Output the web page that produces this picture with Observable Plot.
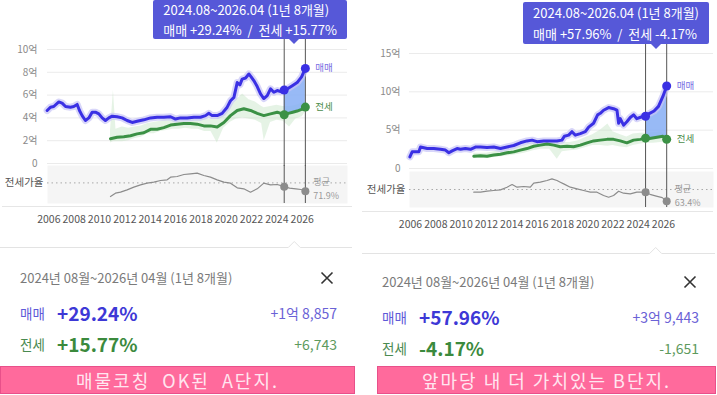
<!DOCTYPE html>
<html><head><meta charset="utf-8">
<script src="https://cdn.jsdelivr.net/npm/d3@7"></script>
<script src="https://cdn.jsdelivr.net/npm/@observablehq/plot@0.6"></script>
<style>
body{margin:0;width:717px;height:395px;overflow:hidden;background:#fff;font-family:"Noto Sans CJK KR","Noto Sans",sans-serif;position:relative}
.panel{position:absolute;top:0;height:395px}
.abs{position:absolute;white-space:pre}
.tip{position:absolute;background:#5658d8;color:#fff;font-size:13px;padding:0 10px;box-sizing:border-box;border-radius:2px;white-space:pre}
.cap{position:absolute;top:366px;height:28px;box-sizing:border-box;background:#ff6a9c;border:1px solid #e8508a;color:#ffe6f0;font-size:18px;line-height:26px;text-align:center;letter-spacing:2px;white-space:pre}
</style></head><body>
<div id="panelA" class="panel" style="left:0;width:358px"></div>
<div id="panelB" class="panel" style="left:360px;width:357px"></div>
<script>
// ---- shared labels ----
const yearTicks = [2006,2008,2010,2012,2014,2016,2018,2020,2022,2024,2026];
const seriesNames = ["매매","전세"];
const ratioName = "전세가율";
const avgName = "평균";
const periodYears = [2024.58, 2026.25];
const tipRange = "2024.08~2026.04 (1년 8개월)";
const infoRange = "2024년 08월~2026년 04월 (1년 8개월)";

// ---- Complex A ----
const saleYearsA = [2005.87,2006.13,2006.39,2006.79,2007.05,2007.32,2007.71,2007.97,2008.24,2008.42,2008.63,2008.89,2009.16,2009.42,2009.68,2009.95,2010.21,2010.47,2010.74,2011.0,2011.39,2011.79,2012.18,2012.58,2012.97,2013.5,2014.03,2014.55,2015.08,2015.61,2016.0,2016.39,2016.92,2017.45,2017.97,2018.37,2018.63,2018.89,2019.29,2019.68,2020.08,2020.34,2020.61,2020.87,2021.08,2021.26,2021.53,2021.79,2021.97,2022.18,2022.45,2022.71,2022.97,2023.24,2023.5,2023.76,2024.03,2024.3,2024.58,2024.9,2025.25,2025.6,2025.95,2026.25];
const saleA = [4.65,4.94,5.0,5.4,5.3,5.0,4.94,5.0,5.18,4.65,4.2,3.77,4.0,4.5,4.5,4.35,4.0,3.77,4.0,4.15,4.1,4.0,3.77,3.6,3.7,3.83,4.0,4.06,4.06,4.1,3.9,4.0,4.0,4.06,4.06,4.2,4.4,4.2,4.2,4.4,4.94,5.5,5.8,7.1,6.9,7.4,7.5,7.85,7.6,7.27,6.75,6.1,5.7,5.96,6.55,6.25,6.4,6.3,6.45,6.6,6.85,7.1,7.6,8.34];
const jeonseYearsA = [2010.87,2011.39,2011.92,2012.45,2012.97,2013.5,2014.03,2014.55,2015.08,2015.61,2016.13,2016.66,2017.18,2017.71,2018.24,2018.76,2019.29,2019.82,2020.34,2020.87,2021.39,2021.92,2022.45,2022.97,2023.5,2024.03,2024.58,2024.9,2025.25,2025.6,2025.95,2026.25];
const jeonseA = [2.17,2.3,2.35,2.44,2.6,2.7,3.0,3.0,3.15,3.37,3.45,3.5,3.5,3.45,3.3,3.3,3.2,3.6,4.2,4.65,4.8,4.65,4.4,4.2,4.35,4.5,4.28,4.4,4.5,4.6,4.75,4.95];
const ratioYearsA = [2010.87,2011.26,2011.66,2012.18,2012.71,2013.24,2013.76,2014.29,2014.82,2015.34,2015.61,2016.13,2016.66,2017.18,2017.71,2018.24,2018.76,2019.29,2019.82,2020.34,2020.87,2021.39,2021.92,2022.45,2022.97,2023.5,2024.03,2024.58,2025.0,2025.5,2025.9,2026.25];
const ratioA = [51.5,56.5,58,61.5,65.5,69,71.5,73,75.5,76.5,80.5,81.5,84.5,85.5,86.5,83,80.5,76.5,73,71.5,64.5,63,58,63,71.5,69,69.5,66.3,64,63,62,59.4];
const bandYearsA = [2010.87,2011.1,2011.3,2011.8,2012.3,2012.8,2013.3,2013.8,2014.3,2014.8,2015.3,2015.8,2016.3,2016.8,2017.3,2017.8,2018.3,2018.8,2019.3,2019.8,2020.3,2020.8,2021.3,2021.8,2022.3,2022.8,2023.0,2023.5,2024.0,2024.5,2025.0,2025.5,2026.0,2026.25];
const bandLoA = [1.8,1.9,1.9,1.9,2.0,2.2,2.3,2.6,2.6,2.8,2.9,3.0,3.0,3.1,3.0,3.0,2.8,2.8,1.8,3.1,3.6,3.9,4.0,3.9,3.8,3.5,2.0,3.6,3.8,3.7,3.2,3.9,4.1,4.5];
const bandHiA = [2.9,6.4,3.0,3.2,3.1,3.2,3.3,3.5,3.6,3.7,3.9,4.0,4.1,4.1,4.1,4.0,3.9,3.9,3.9,4.3,5.0,5.6,6.1,5.6,5.4,5.0,4.9,5.0,5.1,5.0,5.0,5.1,5.3,5.2];
const yTicksA = [0,2,4,6,8,10];
const avgRatioA = 71.9;
const pctA = ["+29.24%","+15.77%"];
const diffA = ["+1억 8,857","+6,743"];
const captionA = "매물코칭  OK된  A단지.";

// ---- Complex B ----
const saleYearsB = [2005.95,2006.13,2006.66,2006.79,2007.32,2007.84,2008.37,2008.76,2009.03,2009.29,2009.68,2009.95,2010.34,2010.74,2011.13,2011.53,2012.05,2012.58,2013.11,2013.63,2014.16,2014.68,2015.21,2015.61,2016.0,2016.53,2017.05,2017.58,2017.97,2018.16,2018.5,2018.76,2019.03,2019.42,2019.82,2020.08,2020.47,2020.79,2021.0,2021.26,2021.66,2022.05,2022.32,2022.45,2022.58,2022.84,2023.1,2023.37,2023.63,2023.89,2024.29,2024.58,2024.9,2025.25,2025.6,2025.95,2026.25];
const saleB = [1.52,2.17,2.2,2.8,2.6,2.6,2.5,2.4,2.05,2.3,2.6,2.5,2.6,2.5,2.8,2.8,2.75,2.8,2.6,2.8,3.0,3.35,3.6,3.7,3.5,3.6,3.6,3.6,3.7,4.2,4.35,4.8,4.35,4.55,4.8,5.4,5.9,7.0,7.2,7.6,7.95,7.8,7.6,5.9,6.5,5.65,6.1,6.65,7.0,6.5,6.75,6.81,7.2,7.5,8.1,9.4,10.76];
const jeonseYearsB = [2011.0,2011.53,2012.05,2012.58,2013.11,2013.63,2014.16,2014.68,2015.21,2015.74,2016.26,2016.79,2017.32,2017.84,2018.37,2018.89,2019.42,2019.95,2020.47,2021.0,2021.53,2022.05,2022.58,2023.1,2023.63,2024.16,2024.58,2024.9,2025.25,2025.6,2025.95,2026.25];
const jeonseB = [1.6,1.65,1.6,1.75,1.87,2.05,2.17,2.4,2.6,2.9,3.05,3.2,3.05,2.83,2.9,2.83,3.05,3.35,3.6,3.7,3.8,3.8,3.6,3.35,3.7,3.8,3.96,3.9,4.0,4.1,4.2,3.8];
const ratioYearsB = [2011.0,2011.53,2012.05,2012.58,2013.11,2013.63,2014.03,2014.42,2014.95,2015.47,2015.74,2016.26,2016.79,2017.18,2017.58,2017.84,2018.11,2018.63,2019.16,2019.68,2020.21,2020.74,2021.26,2021.66,2022.05,2022.45,2022.84,2023.37,2023.89,2024.58,2025.0,2025.5,2025.9,2026.25];
const ratioB = [57,57,59.4,61,62.6,69,75.4,69,70.6,69,78.6,81,85,89,85,81,77,69,65,61,57,57,49,45,49,59.4,54.6,53,57,57,51,47,44,35.4];
const bandYearsB = [2011.0,2012.0,2013.0,2014.0,2015.0,2015.7,2016.3,2017.0,2017.6,2018.0,2018.6,2019.2,2019.8,2020.4,2021.0,2021.6,2022.0,2022.6,2023.1,2023.6,2024.2,2024.6,2025.2,2025.8,2026.25];
const bandLoB = [1.3,1.3,1.5,1.7,2.0,2.3,2.5,2.5,1.2,2.2,2.3,2.4,2.7,3.0,3.0,2.9,3.0,2.8,2.7,3.0,3.2,3.3,3.3,3.4,3.5];
const bandHiB = [2.0,2.0,2.3,2.6,3.0,3.4,3.6,3.8,3.5,3.4,3.4,3.6,4.0,4.4,5.0,5.8,4.8,4.4,4.1,4.5,4.6,4.6,4.7,4.8,4.3];
const yTicksB = [0,5,10,15];
const avgRatioB = 63.4;
const pctB = ["+57.96%","-4.17%"];
const diffB = ["+3억 9,443","-1,651"];
const captionB = "앞마당 내 더 가치있는 B단지.";

// ---- colours ----
const C = {sale:"#3a30e4", saleHalo:"#c8c5f6", jeonse:"#3b9145", band:"#bfe0bf", hl:"#86aef5",
  ratio:"#8c8c8c", rule:"#555", tip:"#5658d8"};
const FONT = "'Noto Sans CJK KR', 'Noto Sans', sans-serif";

const LA = {W:358, topH:170, mt:49, mb:7, ml:47, mr:11, xDomain:[2005.897,2029.575], yPad:10,
  botTop:165, bandH:38, botH:62, xPad:12, ratioDomain:[41,98], baseY:206, baseX:[2,352],
  tipRight:347, tipTop:0, tipH:39, tipL1:19, tipL2:21, infoSep:247, infoSepX:[0,352], dateY:278, row1Y:313, row2Y:344,
  textX:20, valX:57, valRight:337, closeX:327, capX:0, capW:355};
const LB = {W:357, topH:175, mt:53, mb:7, ml:49, mr:4, xDomain:[2005.92,2029.95], yPad:9,
  botTop:171, bandH:36, botH:60, xPad:13, ratioDomain:[20.3,106.6], baseY:211, baseX:[2,353],
  tipRight:349, tipTop:2, tipH:42, tipL1:22, tipL2:20, infoSep:253, infoSepX:[2,355], dateY:282, row1Y:317, row2Y:348,
  textX:22, valX:59, valRight:339, closeX:330, capX:17, capW:339};

const rows = (xs, ys) => xs.map((x,i)=>({year:x, v:ys[i]}));

function place(el, node, left, top){
  const w = document.createElement("div");
  w.style.cssText = `position:absolute;left:${left}px;top:${top}px;`;
  w.appendChild(node); el.appendChild(w); return w;
}
function txt(el, s, css){
  const d = document.createElement("div"); d.className="abs"; d.textContent = s; d.style.cssText += css; el.appendChild(d); return d;
}

function buildPanel(el, d, L){
  const saleRows = rows(d.saleYears, d.sale);
  const jeonseRows = rows(d.jeonseYears, d.jeonse);
  const ratioRows = rows(d.ratioYears, d.ratio);
  const bandRows = d.bandYears.map((x,i)=>({year:x, lo:d.bandLo[i], hi:d.bandHi[i]}));
  const jMap = new Map(jeonseRows.map(r=>[r.year, r.v]));
  const hlRows = saleRows.filter(r=>r.year>=periodYears[0] && jMap.has(r.year))
    .map(r=>({year:r.year, sale:r.v, jeonse:jMap.get(r.year)}));
  const atPeriod = rs => rs.filter(r=>periodYears.includes(r.year));
  const last = rs => rs.slice(-1);

  const bottom = Plot.plot({
    width:L.W, height:L.botH, marginTop:0, marginBottom:L.botH-L.bandH, marginLeft:L.ml, marginRight:L.mr,
    style:{background:"transparent", fontFamily:FONT, fontSize:"10.5px", color:"#555", overflow:"visible"},
    x:{domain:L.xDomain, ticks:yearTicks, tickFormat:v=>String(v), tickSize:0, tickPadding:L.xPad, label:null},
    y:{domain:L.ratioDomain, ticks:[d.avg], tickFormat:()=>ratioName, tickSize:0, tickPadding:4, label:null},
    marks:[
      Plot.frame({fill:"#f5f5f5", stroke:"none"}),
      Plot.ruleY([d.avg], {stroke:"#a8a8a8", strokeDasharray:"1.5,3"}),
      Plot.line(ratioRows, {x:"year", y:"v", stroke:C.ratio, strokeWidth:1.2}),
      Plot.ruleX(periodYears, {stroke:C.rule, strokeWidth:1}),
      Plot.dot(atPeriod(ratioRows), {x:"year", y:"v", r:4, fill:C.ratio}),
      Plot.text([d.avg], {x:()=>periodYears[1], y:v=>v, text:v=>`${avgName}\n${v}%`, dx:8, dy:5,
        lineHeight:1.55, textAnchor:"start", fill:"#9a9a9a", fontSize:9})
    ]
  });
  place(el, bottom, 0, L.botTop);

  const top = Plot.plot({
    width:L.W, height:L.topH, marginTop:L.mt, marginBottom:L.mb, marginLeft:L.ml, marginRight:L.mr,
    style:{background:"transparent", fontFamily:FONT, fontSize:"10px", color:"#8a8a8a", overflow:"visible"},
    x:{domain:L.xDomain, axis:null},
    y:{domain:d3.extent(d.yTicks), ticks:d.yTicks, tickFormat:v=>v===0?"0":v+"억", tickSize:0, tickPadding:L.yPad, label:null},
    marks:[
      Plot.ruleY(d.yTicks, {stroke:"#ebebeb"}),
      Plot.areaY(bandRows, {x:"year", y1:"lo", y2:"hi", fill:C.band, fillOpacity:0.4}),
      Plot.areaY(hlRows, {x:"year", y1:"jeonse", y2:"sale", fill:C.hl, fillOpacity:0.85}),
      Plot.ruleX(periodYears, {stroke:C.rule, strokeWidth:1, insetTop:-10, insetBottom:-3}),
      Plot.line(saleRows, {x:"year", y:"v", stroke:C.saleHalo, strokeWidth:7, strokeOpacity:0.7}),
      Plot.line(jeonseRows, {x:"year", y:"v", stroke:C.jeonse, strokeWidth:3}),
      Plot.line(saleRows, {x:"year", y:"v", stroke:C.sale, strokeWidth:3}),
      Plot.dot(atPeriod(saleRows), {x:"year", y:"v", r:4.5, fill:C.sale}),
      Plot.dot(atPeriod(jeonseRows), {x:"year", y:"v", r:4.5, fill:C.jeonse}),
      Plot.text(last(saleRows), {x:"year", y:"v", text:()=>seriesNames[0], dx:10, textAnchor:"start", fill:"#7a6fe3", fontSize:9.5}),
      Plot.text(last(jeonseRows), {x:"year", y:"v", text:()=>seriesNames[1], dx:10, textAnchor:"start", fill:"#4c8d4c", fontSize:9.5})
    ]
  });
  place(el, top, 0, 0);

  // baseline under chart
  const base = document.createElement("div");
  base.style.cssText = `position:absolute;left:${L.baseX[0]}px;width:${L.baseX[1]-L.baseX[0]}px;top:${L.baseY}px;height:1px;background:#e6e6e6`;
  el.appendChild(base);

  // tooltip
  const px = top.scale("x").apply((periodYears[0]+periodYears[1])/2);
  const tip = document.createElement("div"); tip.className="tip";
  tip.style.cssText += `right:${L.W-L.tipRight}px;top:${L.tipTop}px;height:${L.tipH}px;`;
  tip.innerHTML = `<div style="line-height:${L.tipL1}px"></div><div style="line-height:${L.tipL2}px"></div>`;
  tip.children[0].textContent = tipRange;
  tip.children[1].textContent = `${seriesNames[0]} ${d.pct[0]}  /  ${seriesNames[1]} ${d.pct[1]}`;
  el.appendChild(tip);
  const tri = document.createElement("div");
  tri.style.cssText = `position:absolute;left:${px-5}px;top:${L.tipTop+L.tipH}px;width:0;height:0;border-left:5px solid transparent;border-right:5px solid transparent;border-top:5px solid ${C.tip}`;
  el.appendChild(tri);

  // info card separator with notch
  const ns = "http://www.w3.org/2000/svg";
  const sv = document.createElementNS(ns,"svg");
  sv.setAttribute("width", L.W); sv.setAttribute("height", 8);
  sv.style.cssText = `position:absolute;left:0;top:${L.infoSep-7}px;overflow:visible`;
  const p = document.createElementNS(ns,"path");
  p.setAttribute("d", `M${L.infoSepX[0]},7.5H${px-6}L${px},1.5L${px+6},7.5H${L.infoSepX[1]}`);
  p.setAttribute("fill","#fff"); p.setAttribute("stroke","#e3e3e3"); p.setAttribute("stroke-width","1");
  sv.appendChild(p); el.appendChild(sv);

  // info texts
  txt(el, infoRange, `left:${L.textX}px;top:${L.dateY-10}px;line-height:20px;font-size:13px;color:#7a7a7a`);
  const cx = document.createElementNS(ns,"svg");
  cx.setAttribute("width",14); cx.setAttribute("height",14);
  cx.style.cssText = `position:absolute;left:${L.closeX-7}px;top:${L.dateY-7}px`;
  cx.innerHTML = `<path d="M1.5,1.5L12.5,12.5M12.5,1.5L1.5,12.5" stroke="#333" stroke-width="1.6" fill="none"/>`;
  el.appendChild(cx);

  const rowY = [L.row1Y, L.row2Y];
  const labCol = ["#5e5ad8","#4a8a50"], pctCol = ["#3d38d6","#3b8a3d"], diffCol = ["#6a62d6","#5d9a5d"];
  for (let i=0;i<2;i++){
    txt(el, seriesNames[i], `left:${L.textX}px;top:${rowY[i]-12}px;line-height:24px;font-size:13.5px;color:${labCol[i]}`);
    txt(el, d.pct[i], `left:${L.valX}px;top:${rowY[i]-13}px;line-height:26px;font-size:19px;font-weight:700;color:${pctCol[i]}`);
    txt(el, d.diff[i], `right:${L.W-L.valRight}px;top:${rowY[i]-12}px;line-height:24px;font-size:14px;color:${diffCol[i]}`);
  }

  // pink caption
  const cap = document.createElement("div"); cap.className="cap";
  cap.style.cssText += `left:${L.capX}px;width:${L.capW}px;`;
  cap.textContent = d.caption; el.appendChild(cap);
}

buildPanel(document.getElementById("panelA"), {
  saleYears:saleYearsA, sale:saleA, jeonseYears:jeonseYearsA, jeonse:jeonseA,
  ratioYears:ratioYearsA, ratio:ratioA, bandYears:bandYearsA, bandLo:bandLoA, bandHi:bandHiA,
  yTicks:yTicksA, avg:avgRatioA, pct:pctA, diff:diffA, caption:captionA}, LA);
buildPanel(document.getElementById("panelB"), {
  saleYears:saleYearsB, sale:saleB, jeonseYears:jeonseYearsB, jeonse:jeonseB,
  ratioYears:ratioYearsB, ratio:ratioB, bandYears:bandYearsB, bandLo:bandLoB, bandHi:bandHiB,
  yTicks:yTicksB, avg:avgRatioB, pct:pctB, diff:diffB, caption:captionB}, LB);
</script>
</body></html>
